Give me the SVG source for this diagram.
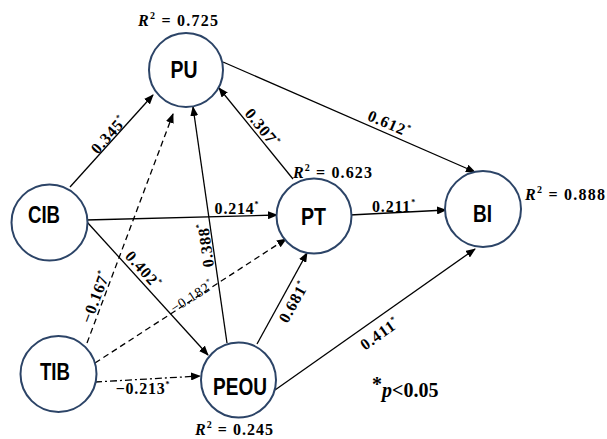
<svg xmlns="http://www.w3.org/2000/svg" width="607" height="439" viewBox="0 0 607 439">
<defs>
<marker id="arr" markerUnits="userSpaceOnUse" markerWidth="10" markerHeight="8" refX="9" refY="4" orient="auto">
<path d="M0,0 L10,4 L0,8 z" fill="#000"/>
</marker>
<style>
.node{fill:#fff;stroke:#2c4467;stroke-width:2}
.nl{font-family:"Liberation Sans",Arial,sans-serif;font-weight:bold;font-size:23px;fill:#000;text-anchor:middle}
.e{stroke:#000;stroke-width:1.3;fill:none;marker-end:url(#arr)}
.d{stroke-dasharray:6 4}
.dd{stroke-dasharray:7 3 2 3}
.el{font-family:"Liberation Serif","Times New Roman",serif;font-weight:bold;font-size:16px;fill:#000;text-anchor:middle;letter-spacing:0.8px}
.r2{font-family:"Liberation Serif","Times New Roman",serif;font-weight:bold;font-size:16px;fill:#000}
.s{font-size:8px}
</style>
</defs>
<rect width="607" height="439" fill="#fff"/>
<g id="connectors">
<line class="e" x1="70" y1="187" x2="153" y2="95"/>
<line class="e" x1="223" y1="62" x2="475" y2="172"/>
<line class="e" x1="293" y1="179" x2="219" y2="88"/>
<line class="e" x1="86" y1="220" x2="277" y2="215"/>
<line class="e" x1="350" y1="215" x2="446" y2="210"/>
<line class="e" x1="87" y1="222" x2="208" y2="355"/>
<line class="e" x1="227" y1="343" x2="193" y2="107"/>
<line class="e d" x1="87" y1="343" x2="173" y2="114"/>
<line class="e d" x1="95" y1="363" x2="286" y2="239"/>
<line class="e dd" x1="95" y1="382" x2="200" y2="376"/>
<line class="e" x1="257" y1="344" x2="307" y2="253"/>
<line class="e" x1="275" y1="390" x2="475" y2="249"/>
<text class="el" transform="translate(109,135) rotate(-48)" dy="5">0.345<tspan class="s" dy="-7">*</tspan></text>
<text class="el" transform="translate(389,124) rotate(23.3)" dy="5">0.612<tspan class="s" dy="-7">*</tspan></text>
<text class="el" transform="translate(262,128) rotate(51)" dy="5">0.307<tspan class="s" dy="-7">*</tspan></text>
<text class="el" transform="translate(237,209)" dy="5">0.214<tspan class="s" dy="-7">*</tspan></text>
<text class="el" transform="translate(394,207)" dy="5">0.211<tspan class="s" dy="-7">*</tspan></text>
<text class="el" transform="translate(143,270) rotate(48)" dy="5">0.402<tspan class="s" dy="-7">*</tspan></text>
<text class="el" transform="translate(206,245) rotate(-98)" dy="5">0.388<tspan class="s" dy="-7">*</tspan></text>
<text class="el" transform="translate(96,297) rotate(-69.4)" dy="5">−0.167<tspan class="s" dy="-7">*</tspan></text>
<text class="el" transform="translate(192,296) rotate(-33)" dy="5" style="font-size:14px;font-weight:normal">−0.182<tspan class="s" dy="-6">*</tspan></text>
<text class="el" transform="translate(143,389)" dy="5">−0.213<tspan class="s" dy="-7">*</tspan></text>
<text class="el" transform="translate(294,302) rotate(-61)" dy="5">0.681<tspan class="s" dy="-7">*</tspan></text>
<text class="el" transform="translate(380,334) rotate(-35.3)" dy="5">0.411<tspan class="s" dy="-7">*</tspan></text>
</g>
<g id="PU">
<circle class="node" cx="186" cy="70" r="37"/>
<text class="nl" x="184" y="78" textLength="27" lengthAdjust="spacingAndGlyphs">PU</text>
</g>
<g id="CIB">
<circle class="node" cx="49.5" cy="222.5" r="38"/>
<text class="nl" x="44" y="223" textLength="32" lengthAdjust="spacingAndGlyphs">CIB</text>
</g>
<g id="TIB">
<circle class="node" cx="58.5" cy="374" r="38"/>
<text class="nl" x="55" y="380" textLength="30" lengthAdjust="spacingAndGlyphs">TIB</text>
</g>
<g id="PEOU">
<circle class="node" cx="238.5" cy="380" r="37.5"/>
<text class="nl" x="240" y="395" textLength="54" lengthAdjust="spacingAndGlyphs">PEOU</text>
</g>
<g id="PT">
<circle class="node" cx="314" cy="216" r="37.5"/>
<text class="nl" x="313.5" y="225" textLength="25" lengthAdjust="spacingAndGlyphs">PT</text>
</g>
<g id="BI">
<circle class="node" cx="483" cy="209" r="38"/>
<text class="nl" x="482.5" y="222" textLength="19" lengthAdjust="spacingAndGlyphs">BI</text>
</g>
<g id="labels">
<text class="r2" x="138" y="26" textLength="80" lengthAdjust="spacing"><tspan font-style="italic">R</tspan><tspan font-size="10" dy="-7">2</tspan><tspan dy="7"> = 0.725</tspan></text>
<text class="r2" x="293" y="178" textLength="79" lengthAdjust="spacing"><tspan font-style="italic">R</tspan><tspan font-size="10" dy="-7">2</tspan><tspan dy="7"> = 0.623</tspan></text>
<text class="r2" x="525" y="200" textLength="80" lengthAdjust="spacing"><tspan font-style="italic">R</tspan><tspan font-size="10" dy="-7">2</tspan><tspan dy="7"> = 0.888</tspan></text>
<text class="r2" x="195" y="435" textLength="78" lengthAdjust="spacing"><tspan font-style="italic">R</tspan><tspan font-size="10" dy="-7">2</tspan><tspan dy="7"> = 0.245</tspan></text>
<text class="r2" x="372" y="397" style="font-size:20px"><tspan dy="-6">*</tspan><tspan dy="6" font-style="italic">p</tspan>&lt;0.05</text>
</g>
</svg>
